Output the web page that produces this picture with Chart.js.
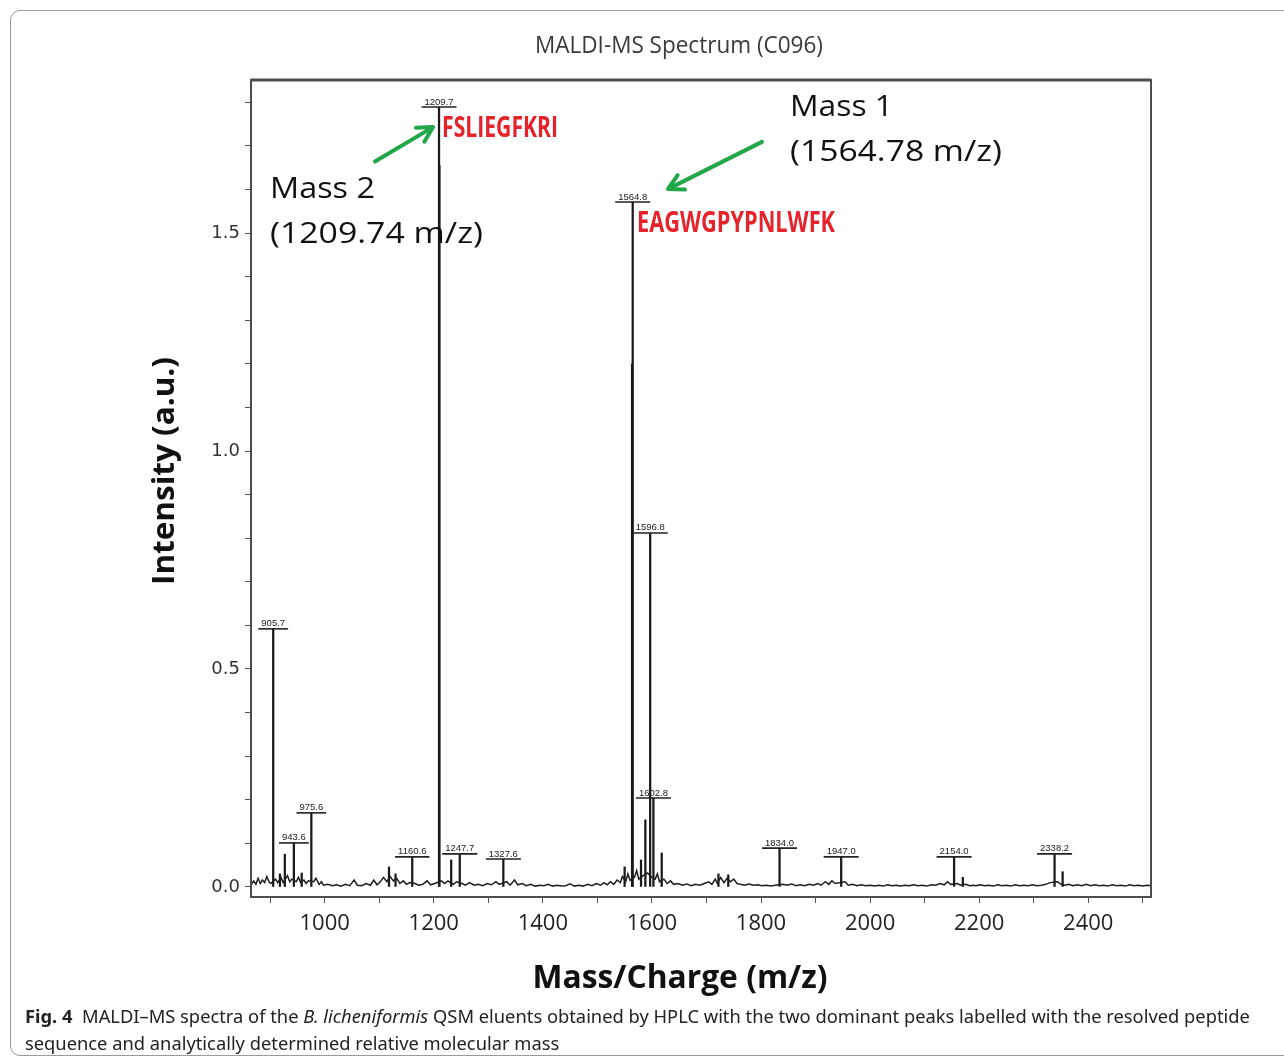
<!DOCTYPE html>
<html>
<head>
<meta charset="utf-8">
<script src="https://cdn.jsdelivr.net/npm/chart.js@4.4.0/dist/chart.umd.min.js"></script>
<style>
html, body { margin: 0; padding: 0; background: #fff; }
#wrap { position: relative; width: 1284px; height: 1061px; overflow: hidden; }
#box { position: absolute; left: 10px; top: 10px; width: 1300px; height: 1044px; border: 1px solid #9a9a9a; border-radius: 10px; }
canvas { position: absolute; left: 0; top: 0; }
.cap { position: absolute; left: 25px; font-family: "Noto Sans", sans-serif; font-size: 18px; color: #222; white-space: nowrap; transform-origin: 0 0; }
</style>
</head>
<body>
<div id="wrap">
  <div id="box"></div>
  <canvas id="grafico" width="1284" height="1061"></canvas>
  <div class="cap" id="cap1" style="top:1004px"><b>Fig. 4</b>&nbsp; MALDI–MS spectra of the <i>B. licheniformis</i> QSM eluents obtained by HPLC with the two dominant peaks labelled with the resolved peptide</div>
  <div class="cap" id="cap2" style="top:1031px">sequence and analytically determined relative molecular mass</div>
</div>
<script>
// picos com rotulo (m/z e intensidade)
const picoMz = [905.7, 943.6, 975.6, 1160.6, 1209.7, 1247.7, 1327.6, 1564.8, 1596.8, 1602.8, 1834.0, 1947.0, 2154.0, 2338.2]
const picoIntensidade = [0.592, 0.101, 0.170, 0.069, 1.789, 0.076, 0.064, 1.571, 0.812, 0.204, 0.089, 0.069, 0.069, 0.076]
const picoRotulo = ['905.7', '943.6', '975.6', '1160.6', '1209.7', '1247.7', '1327.6', '1564.8', '1596.8', '1602.8', '1834.0', '1947.0', '2154.0', '2338.2']

// picos menores sem rotulo
const menorMz = [918, 927, 958, 1118, 1130, 1210.4, 1232, 1550, 1563.6, 1580, 1588, 1618, 1722, 1740, 2170, 2353]
const menorIntensidade = [0.030, 0.075, 0.032, 0.046, 0.030, 1.655, 0.062, 0.046, 1.20, 0.062, 0.154, 0.078, 0.030, 0.028, 0.022, 0.035]

// ruido da linha de base
const ruidoMz = [866, 870, 874, 878, 882, 886, 890, 894, 898, 901, 910, 914, 920, 924, 932, 936, 940, 948, 952, 956, 962, 966, 970, 980, 984, 990, 994, 998,
  1006, 1014, 1022, 1030, 1038, 1046, 1054, 1060, 1068, 1076, 1084, 1090, 1096, 1102, 1108, 1114, 1120, 1126, 1132, 1138, 1144, 1150, 1156, 1166, 1172, 1180, 1188, 1194, 1202,
  1214, 1220, 1226, 1236, 1242, 1252, 1258, 1266, 1274, 1282, 1290, 1298, 1306, 1314, 1320, 1334, 1340, 1348, 1354, 1362, 1370, 1378, 1386, 1394,
  1402, 1410, 1418, 1426, 1434, 1442, 1450, 1458, 1466, 1474, 1482, 1490, 1498, 1506, 1512, 1518, 1524, 1530, 1536, 1542, 1546, 1552, 1556, 1560,
  1568, 1572, 1576, 1584, 1592, 1600, 1606, 1610, 1614, 1622, 1628, 1634, 1640,
  1648, 1656, 1664, 1672, 1680, 1688, 1696, 1704, 1710, 1716, 1720, 1726, 1732, 1738, 1744, 1750, 1756, 1762, 1770, 1778, 1786, 1794,
  1802, 1810, 1818, 1826, 1840, 1848, 1856, 1864, 1872, 1880, 1888, 1896, 1904, 1910, 1918, 1924, 1930, 1936, 1954, 1960, 1968, 1976, 1984, 1992,
  2000, 2008, 2016, 2024, 2032, 2040, 2048, 2056, 2064, 2072, 2080, 2088, 2096, 2104, 2112, 2120, 2128, 2136, 2142, 2148, 2160, 2166, 2176, 2182, 2188, 2194,
  2202, 2210, 2218, 2226, 2234, 2242, 2250, 2258, 2266, 2274, 2282, 2290, 2298, 2306, 2314, 2322, 2330, 2344, 2350, 2358, 2364, 2372, 2380, 2388, 2396,
  2404, 2412, 2420, 2428, 2436, 2444, 2452, 2460, 2468, 2476, 2484, 2492, 2500, 2508, 2514]
const ruidoIntensidade = [0.006, 0.014, 0.006, 0.020, 0.008, 0.016, 0.010, 0.024, 0.012, 0.008, 0.018, 0.010, 0.022, 0.010, 0.026, 0.012, 0.018, 0.012, 0.022, 0.010, 0.016, 0.008, 0.014, 0.012, 0.020, 0.006, 0.012, 0.004,
  0.006, 0.003, 0.005, 0.002, 0.006, 0.003, 0.016, 0.004, 0.003, 0.008, 0.004, 0.016, 0.005, 0.012, 0.022, 0.012, 0.024, 0.014, 0.020, 0.008, 0.014, 0.006, 0.010, 0.008, 0.004, 0.006, 0.014, 0.005, 0.008,
  0.014, 0.008, 0.014, 0.006, 0.012, 0.008, 0.004, 0.010, 0.004, 0.006, 0.003, 0.008, 0.005, 0.012, 0.006, 0.012, 0.004, 0.016, 0.005, 0.008, 0.003, 0.006, 0.002, 0.004,
  0.003, 0.006, 0.002, 0.004, 0.002, 0.003, 0.007, 0.002, 0.004, 0.002, 0.006, 0.003, 0.008, 0.004, 0.010, 0.005, 0.012, 0.006, 0.016, 0.010, 0.024, 0.012, 0.030, 0.015,
  0.022, 0.038, 0.018, 0.026, 0.032, 0.022, 0.018, 0.030, 0.012, 0.018, 0.008, 0.014, 0.006,
  0.008, 0.004, 0.007, 0.003, 0.006, 0.004, 0.008, 0.012, 0.006, 0.018, 0.008, 0.022, 0.010, 0.020, 0.012, 0.018, 0.008, 0.006, 0.004, 0.007, 0.004, 0.005,
  0.003, 0.004, 0.002, 0.004, 0.006, 0.004, 0.007, 0.003, 0.005, 0.003, 0.006, 0.004, 0.008, 0.004, 0.012, 0.006, 0.014, 0.008, 0.012, 0.004, 0.006, 0.003, 0.005, 0.003,
  0.004, 0.002, 0.004, 0.002, 0.005, 0.003, 0.004, 0.002, 0.004, 0.003, 0.005, 0.003, 0.004, 0.002, 0.005, 0.004, 0.008, 0.005, 0.012, 0.006, 0.008, 0.004, 0.006, 0.003, 0.004, 0.003,
  0.005, 0.003, 0.004, 0.002, 0.005, 0.003, 0.004, 0.002, 0.005, 0.003, 0.004, 0.003, 0.005, 0.003, 0.004, 0.006, 0.010, 0.012, 0.006, 0.004, 0.006, 0.003, 0.005, 0.003, 0.006,
  0.003, 0.005, 0.003, 0.004, 0.002, 0.005, 0.003, 0.004, 0.002, 0.005, 0.003, 0.004, 0.002, 0.004, 0.003]

// ticks dos eixos
const xTicks = [900, 1000, 1100, 1200, 1300, 1400, 1500, 1600, 1700, 1800, 1900, 2000, 2100, 2200, 2300, 2400, 2500]
const yTicks = [0, 0.1, 0.2, 0.3, 0.4, 0.5, 0.6, 0.7, 0.8, 0.9, 1.0, 1.1, 1.2, 1.3, 1.4, 1.5, 1.6, 1.7, 1.8]

// textos
const titulo = 'MALDI-MS Spectrum (C096)'
const tituloX = 'Mass/Charge (m/z)'
const tituloY = 'Intensity (a.u.)'

// anotacoes (posicao em coordenadas do grafico)
const sequencias = [
  { texto: 'FSLIEGFKRI', mz: 1215.2, y: 1.720, largura: 116 },
  { texto: 'EAGWGPYPNLWFK', mz: 1572.7, y: 1.502, largura: 198 }
]
const massas = [
  { texto: 'Mass 2', mz: 899.8, y: 1.580, largura: 105 },
  { texto: '(1209.74 m/z)', mz: 899.8, y: 1.477, largura: 213 },
  { texto: 'Mass 1', mz: 1853.2, y: 1.768, largura: 103 },
  { texto: '(1564.78 m/z)', mz: 1853.2, y: 1.665, largura: 212 }
]
const setas = [
  { de: [1092.3, 1.664], para: [1198.7, 1.743] },
  { de: [1801.8, 1.709], para: [1629.5, 1.601] }
]

// junta os picos como barras finas
const picos = []
for (let i = 0; i < picoMz.length; i++) picos.push({ x: picoMz[i], y: picoIntensidade[i] })
for (let i = 0; i < menorMz.length; i++) picos.push({ x: menorMz[i], y: menorIntensidade[i] })

const ruido = ruidoMz.map((m, i) => ({ x: m, y: ruidoIntensidade[i] }))

function textoAjustado(ctx, texto, x, y, largura, alinhamento) {
  const w = ctx.measureText(texto).width
  ctx.save()
  ctx.translate(x, y)
  ctx.scale(largura / w, 1)
  ctx.textAlign = alinhamento
  ctx.fillText(texto, 0, 0)
  ctx.restore()
}

function desenhaSeta(ctx, x1, y1, x2, y2) {
  const ang = Math.atan2(y2 - y1, x2 - x1)
  const cab = 17
  ctx.beginPath()
  ctx.moveTo(x1, y1)
  ctx.lineTo(x2 - 2 * Math.cos(ang), y2 - 2 * Math.sin(ang))
  ctx.stroke()
  ctx.beginPath()
  ctx.moveTo(x2 - cab * Math.cos(ang - 0.5), y2 - cab * Math.sin(ang - 0.5))
  ctx.lineTo(x2, y2)
  ctx.lineTo(x2 - cab * Math.cos(ang + 0.5), y2 - cab * Math.sin(ang + 0.5))
  ctx.stroke()
}

const moldura = {
  id: 'moldura',
  afterDatasetsDraw(chart) {
    const { ctx, chartArea: a, scales: { x, y } } = chart
    ctx.save()
    // caixa do grafico
    ctx.strokeStyle = '#4d4d4d'
    ctx.lineWidth = 2
    ctx.strokeRect(a.left, a.top, a.right - a.left, a.bottom - a.top)
    ctx.lineWidth = 3
    ctx.beginPath(); ctx.moveTo(a.left, a.top); ctx.lineTo(a.right, a.top); ctx.stroke()

    // rotulos dos picos
    ctx.font = '9.5px "Liberation Sans", Arial, sans-serif'
    ctx.fillStyle = '#222'
    ctx.strokeStyle = '#222'
    ctx.lineWidth = 1.6
    ctx.textBaseline = 'alphabetic'
    for (let i = 0; i < picoMz.length; i++) {
      const px = x.getPixelForValue(picoMz[i])
      const py = y.getPixelForValue(picoIntensidade[i])
      const w = ctx.measureText(picoRotulo[i]).width + 6
      ctx.beginPath(); ctx.moveTo(px - w / 2, py); ctx.lineTo(px + w / 2, py); ctx.stroke()
      ctx.textAlign = 'center'
      ctx.fillText(picoRotulo[i], px, py - 2.5)
    }

    // sequencias em vermelho
    ctx.fillStyle = '#e5232b'
    ctx.font = 'bold 28px "Open Sans", sans-serif'
    for (const s of sequencias) {
      textoAjustado(ctx, s.texto, x.getPixelForValue(s.mz), y.getPixelForValue(s.y), s.largura, 'left')
    }

    // textos das massas
    ctx.fillStyle = '#111'
    ctx.font = '30px "Open Sans", sans-serif'
    for (const m of massas) {
      textoAjustado(ctx, m.texto, x.getPixelForValue(m.mz), y.getPixelForValue(m.y), m.largura, 'left')
    }

    // setas verdes
    ctx.strokeStyle = '#22a64a'
    ctx.lineWidth = 4
    ctx.lineCap = 'round'
    ctx.lineJoin = 'round'
    for (const s of setas) {
      desenhaSeta(ctx, x.getPixelForValue(s.de[0]), y.getPixelForValue(s.de[1]),
        x.getPixelForValue(s.para[0]), y.getPixelForValue(s.para[1]))
    }

    // titulo e titulos dos eixos
    ctx.fillStyle = '#3a3a3a'
    ctx.font = '24px "Open Sans", sans-serif'
    textoAjustado(ctx, titulo, 679, 53, 288, 'center')
    ctx.fillStyle = '#111'
    ctx.font = 'bold 32px "Open Sans", sans-serif'
    textoAjustado(ctx, tituloX, 680, 988, 295, 'center')
    ctx.save()
    ctx.translate(174, 471)
    ctx.rotate(-Math.PI / 2)
    ctx.font = 'bold 31px "Open Sans", sans-serif'
    textoAjustado(ctx, tituloY, 0, 0, 228, 'center')
    ctx.restore()
    ctx.restore()
  }
}

const ctx = document.getElementById('grafico')
new Chart(ctx, {
  type: 'bar',
  data: {
    datasets: [
      {
        type: 'line',
        data: ruido,
        borderColor: '#1e1e1e',
        borderWidth: 1.5,
        pointRadius: 0,
        tension: 0
      },
      {
        type: 'bar',
        data: picos,
        backgroundColor: '#1a1a1a',
        barThickness: 1.6,
        grouped: false
      }
    ]
  },
  options: {
    responsive: false,
    animation: false,
    layout: { padding: { top: 80, right: 133, left: 0, bottom: 0 } },
    plugins: { legend: { display: false }, tooltip: { enabled: false } },
    scales: {
      x: {
        type: 'linear',
        min: 865,
        max: 2515,
        offset: false,
        border: { display: false },
        grid: { drawOnChartArea: false, drawTicks: true, tickLength: 6, color: '#555', offset: false },
        ticks: {
          autoSkip: false,
          maxRotation: 0,
          padding: 8,
          color: '#222',
          font: { family: '"Open Sans", sans-serif', size: 22 },
          callback: v => (v % 200 === 0 ? String(v) : '')
        },
        afterBuildTicks: s => { s.ticks = xTicks.map(v => ({ value: v })) },
        afterFit: s => { s.height = 164 }
      },
      y: {
        type: 'linear',
        min: -0.023,
        max: 1.851,
        border: { display: false },
        grid: { drawOnChartArea: false, drawTicks: true, tickLength: 6, color: '#555' },
        ticks: {
          autoSkip: false,
          padding: 5,
          color: '#333',
          font: { family: '"DejaVu Sans", sans-serif', size: 18 },
          callback: v => (Math.round(v * 10) % 5 === 0 ? v.toFixed(1) : '')
        },
        afterBuildTicks: s => { s.ticks = yTicks.map(v => ({ value: v })) },
        afterFit: s => { s.width = 251 }
      }
    }
  },
  plugins: [moldura]
})

// legenda da figura ajustada na largura
const cap1 = document.getElementById('cap1')
const cap2 = document.getElementById('cap2')
const escala = 1225 / cap1.scrollWidth
cap1.style.transform = 'scaleX(' + escala + ')'
cap2.style.transform = 'scaleX(' + escala + ')'
</script>
</body>
</html>
